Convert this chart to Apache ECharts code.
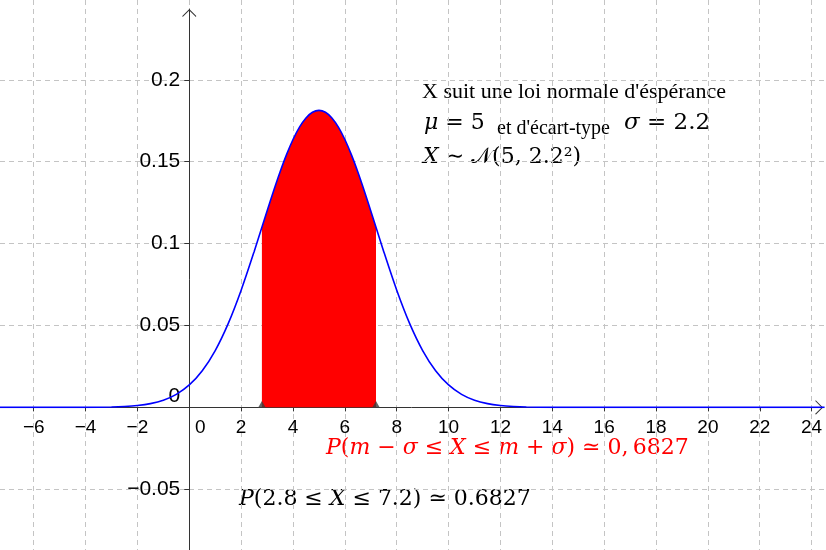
<!DOCTYPE html>
<html>
<head>
<meta charset="utf-8">
<script src="https://cdn.jsdelivr.net/npm/echarts@6/dist/echarts.min.js"></script>
<style>
  html, body { margin: 0; padding: 0; background: #ffffff; }
  #chart { width: 826px; height: 550px; }
</style>
</head>
<body>
<div id="chart"></div>
<script>
// Density of X ~ N(5, 2.2²), sampled along x
const curveX = [-7.3, -5, -4, -3, -2.5, -2, -1.5, -1, -0.5, 0, 0.5, 1, 1.5, 2, 2.5, 3, 3.25, 3.5, 3.75,
                4, 4.25, 4.5, 4.75, 5, 5.25, 5.5, 5.75, 6, 6.25, 6.5, 6.75, 7, 7.5, 8, 8.5, 9, 9.5,
                10, 10.5, 11, 11.5, 12, 12.5, 13, 14, 15, 24.5];
const curveY = [0, 0, 0.00004, 0.00024, 0.00054, 0.00115, 0.00231, 0.00440, 0.00797, 0.01370, 0.02238,
                0.03472, 0.05115, 0.07156, 0.09508, 0.11996, 0.13216, 0.14373, 0.15431,
                0.16354, 0.17110, 0.17671, 0.18017, 0.18134, 0.18017, 0.17671, 0.17110,
                0.16354, 0.15431, 0.14373, 0.13216, 0.11996, 0.09508, 0.07156, 0.05115, 0.03472, 0.02238,
                0.01370, 0.00797, 0.00440, 0.00231, 0.00115, 0.00054, 0.00024, 0.00004, 0, 0];

// Shaded region between m - sigma = 2.8 and m + sigma = 7.2
const areaX = [2.8, 3, 3.25, 3.5, 3.75, 4, 4.25, 4.5, 4.75, 5, 5.25, 5.5, 5.75, 6, 6.25, 6.5, 6.75, 7, 7.2];
const areaY = [0.11000, 0.11996, 0.13216, 0.14373, 0.15431, 0.16354, 0.17110, 0.17671, 0.18017, 0.18134,
               0.18017, 0.17671, 0.17110, 0.16354, 0.15431, 0.14373, 0.13216, 0.11996, 0.11000];

// Bounds of the interval, marked on the x axis
const boundsX = [2.8, 7.2];

// Tick labels
const xTicks = [-6, -4, -2, 0, 2, 4, 6, 8, 10, 12, 14, 16, 18, 20, 22, 24];
const yTicks = [-0.05, 0, 0.05, 0.1, 0.15, 0.2];

// Visible window of the plane
const X_MIN = -7.3, X_MAX_FULL = 24.555, X_MAX_AXIS = 24.439;
const Y_MIN = -0.08706, Y_MAX_FULL = 0.24872, Y_MAX_AXIS = 0.24322;

const pairs = (xs, ys) => xs.map((x, i) => [x, ys[i]]);
const minus = s => s.replace('-', '\u2212');

const chevron = 'path://M0,7 L7,0 L14,7 L13.6,8 L7,1.4 L0.4,8 Z';
const AXIS_COLOR = '#333333';
const GRID_COLOR = '#c4c4c4';
const SANS = '"Liberation Sans", Arial, sans-serif';
const TIMES = '"Liberation Serif", "Times New Roman", serif';
const MATH = '"DejaVu Serif", serif';

const mathRich = (size, color) => ({
  i: { fontFamily: MATH, fontSize: size, fontStyle: 'italic', fill: color },
  n: { fontFamily: MATH, fontSize: size, fill: color }
});

const hidden = { axisLine: { show: false }, axisTick: { show: false },
                 axisLabel: { show: false }, splitLine: { show: false } };
const dashed = { show: true, showMinLine: false, showMaxLine: false,
                 lineStyle: { color: GRID_COLOR, width: 1, type: [5, 4] } };

const chart = echarts.init(document.getElementById('chart'), null, { renderer: 'canvas' });

chart.setOption({
  animation: false,
  backgroundColor: '#ffffff',
  grid: [
    // dashed background grid over the whole plane
    { left: 0, right: 0, top: 0, bottom: 0, outerBoundsMode: 'none', containLabel: false },
    // upper half-plane: curve, shaded area, x axis along y = 0
    { left: 0, right: 3, top: 9, bottom: 142.6, outerBoundsMode: 'none', containLabel: false },
    // right half-plane: y axis along x = 0
    { left: 189.3, right: 0, top: 9, bottom: 0, outerBoundsMode: 'none', containLabel: false }
  ],
  xAxis: [
    Object.assign({}, hidden, {
      type: 'value', gridIndex: 0, min: X_MIN, max: X_MAX_FULL,
      minInterval: 2, maxInterval: 2, splitNumber: 16, splitLine: dashed
    }),
    {
      type: 'value', gridIndex: 1, position: 'bottom', min: X_MIN, max: X_MAX_AXIS,
      splitLine: { show: false },
      axisLine: { show: true, onZero: false, lineStyle: { color: AXIS_COLOR, width: 1 },
                  symbol: ['none', chevron], symbolSize: [14, 8], symbolOffset: [0, -4] },
      axisTick: { show: true, length: 4, inside: false, customValues: xTicks,
                  lineStyle: { color: AXIS_COLOR } },
      axisLabel: {
        show: true, customValues: xTicks, margin: 11,
        fontFamily: SANS, fontSize: 19, color: '#000000',
        formatter: v => (v === 0 ? '{z|0}' : minus(String(v))),
        rich: { z: { fontFamily: SANS, fontSize: 19, color: '#000000', padding: [0, 0, 0, 22] } }
      }
    },
    Object.assign({}, hidden, { type: 'value', gridIndex: 2, min: 0, max: 1 })
  ],
  yAxis: [
    Object.assign({}, hidden, {
      type: 'value', gridIndex: 0, min: Y_MIN, max: Y_MAX_FULL,
      minInterval: 0.05, maxInterval: 0.05, splitNumber: 7, splitLine: dashed
    }),
    Object.assign({}, hidden, { type: 'value', gridIndex: 1, min: 0, max: Y_MAX_AXIS }),
    {
      type: 'value', gridIndex: 2, position: 'left', min: Y_MIN, max: Y_MAX_AXIS,
      splitLine: { show: false },
      axisLine: { show: true, onZero: false, lineStyle: { color: AXIS_COLOR, width: 1 },
                  symbol: ['none', chevron], symbolSize: [14, 8], symbolOffset: [0, -4] },
      axisTick: { show: true, length: 5, inside: false, customValues: yTicks,
                  lineStyle: { color: AXIS_COLOR } },
      axisLabel: {
        show: true, customValues: yTicks, margin: 9,
        fontFamily: SANS, fontSize: 21, color: '#000000',
        formatter: v => (v === 0 ? '{z|0}' : minus(String(v))),
        rich: { z: { fontFamily: SANS, fontSize: 21, color: '#000000', padding: [0, 0, 22, 0] } }
      }
    }
  ],
  series: [
    {
      name: 'aire', type: 'line', xAxisIndex: 1, yAxisIndex: 1,
      data: pairs(areaX, areaY), smooth: 0.3, showSymbol: false, silent: true, z: 2,
      lineStyle: { width: 0 },
      areaStyle: { color: '#ff0000', opacity: 1 }
    },
    {
      name: 'densite', type: 'line', xAxisIndex: 1, yAxisIndex: 1,
      data: pairs(curveX, curveY), smooth: 0.3, showSymbol: false, silent: true, z: 3,
      lineStyle: { color: '#0000ff', width: 1.6 }
    },
    {
      name: 'bornes', type: 'scatter', xAxisIndex: 1, yAxisIndex: 1,
      data: boundsX.map(x => [x, 0]), symbol: 'triangle', symbolSize: [8, 7],
      symbolOffset: [0, -3], silent: true, z: 4, clip: false,
      itemStyle: { color: '#3c3c3c' }
    }
  ],
  graphic: [
    {
      type: 'text', x: 422, y: 92.5, silent: true,
      style: { text: "X suit une loi normale d'éspérance", fontFamily: TIMES, fontSize: 22,
               fill: '#000000', align: 'left', verticalAlign: 'middle' }
    },
    {
      type: 'text', x: 424, y: 123.5, silent: true,
      style: { text: '{i|μ}{n| = 5}', rich: mathRich(22, '#000000'),
               align: 'left', verticalAlign: 'middle' }
    },
    {
      type: 'text', x: 497, y: 128.5, silent: true,
      style: { text: "et d'écart-type", fontFamily: TIMES, fontSize: 20,
               fill: '#000000', align: 'left', verticalAlign: 'middle' }
    },
    {
      type: 'text', x: 624, y: 123.5, silent: true,
      style: { text: '{i|σ}{n| = 2.2}', rich: mathRich(23, '#000000'),
               align: 'left', verticalAlign: 'middle' }
    },
    {
      type: 'text', x: 423, y: 157, silent: true,
      style: { text: '{i|X}{n| ∼ 𝒩(5, 2.2²)}', rich: mathRich(22, '#000000'),
               align: 'left', verticalAlign: 'middle' }
    },
    {
      type: 'text', x: 326, y: 448, silent: true,
      style: { text: '{i|P}{n|(}{i|m}{n| − }{i|σ}{n| ≤ }{i|X}{n| ≤ }{i|m}{n| + }{i|σ}{n|) ≃ 0,\u20096827}',
               rich: mathRich(22, '#ff0000'), align: 'left', verticalAlign: 'middle' }
    },
    {
      type: 'text', x: 239, y: 499.5, silent: true,
      style: { text: '{i|P}{n|(2.8 ≤ }{i|X}{n| ≤ 7.2) ≃ 0.6827}',
               rich: mathRich(22, '#000000'), align: 'left', verticalAlign: 'middle' }
    }
  ]
});
</script>
</body>
</html>
